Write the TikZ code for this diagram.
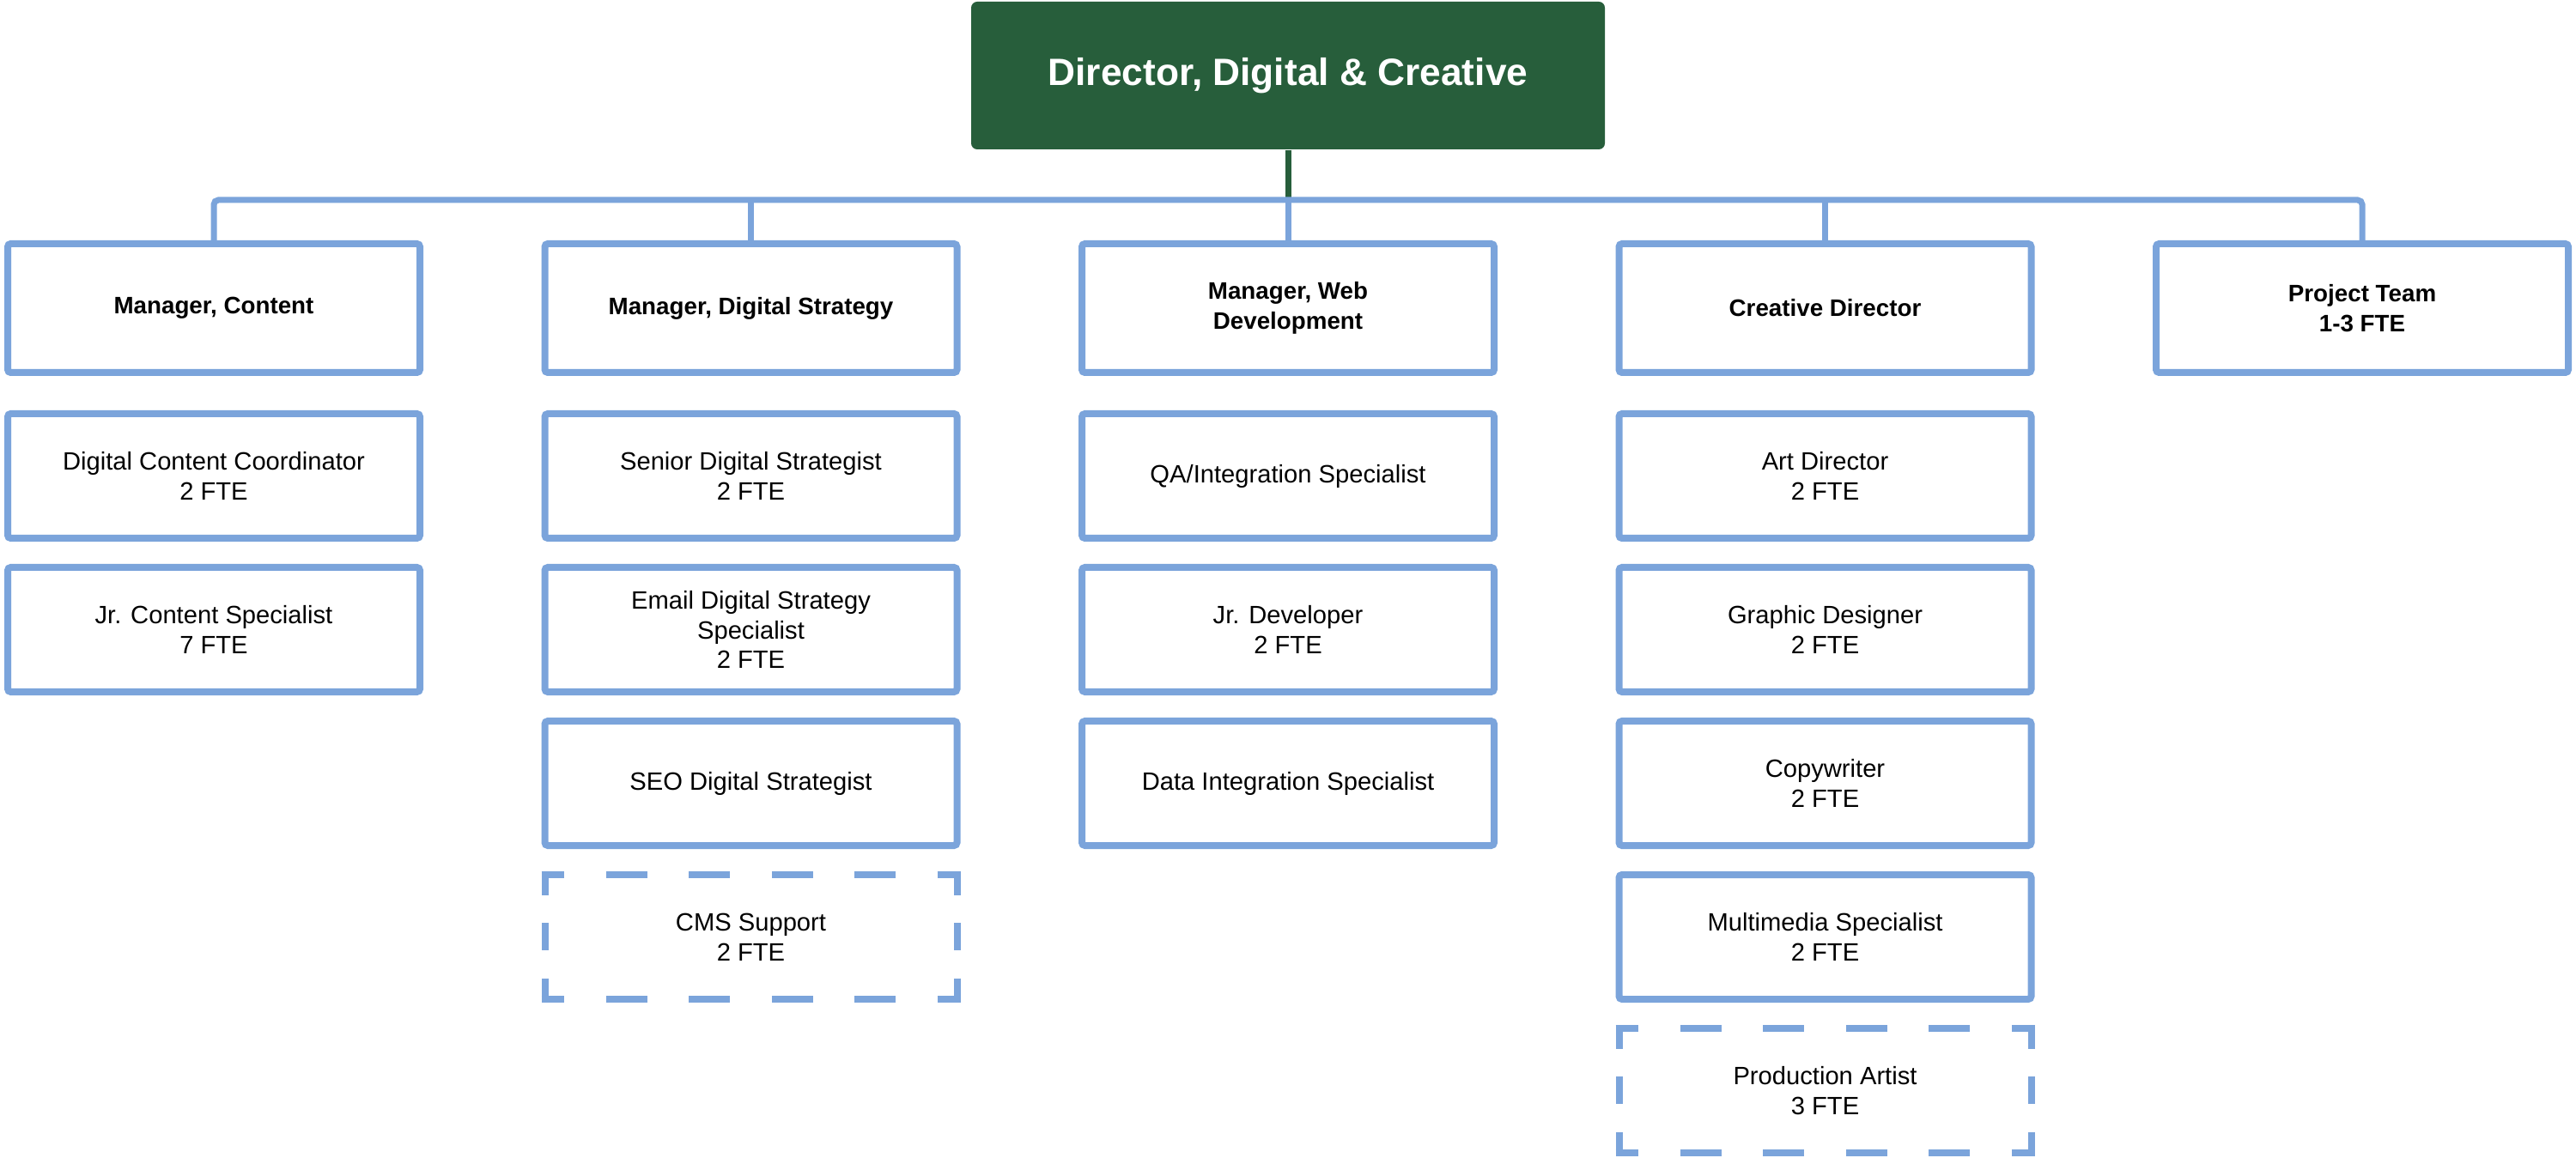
\documentclass[tikz,border=0pt]{standalone}
\usepackage{fontspec}
\setmainfont{Liberation Sans}
\definecolor{dgreen}{HTML}{275E3B}
\definecolor{lblue}{HTML}{7BA4DB}

% dashed outline of an open post
\newcommand{\dashsides}[1]{%
  \draw[hdash] ([xshift=-0.04cm]#1.north west) -- ([xshift=0.04cm]#1.north east);
  \draw[hdash] ([xshift=-0.04cm]#1.south west) -- ([xshift=0.04cm]#1.south east);
  \draw[vdash] (#1.north west) -- (#1.south west);
  \draw[vdash] (#1.north east) -- (#1.south east);
}

\begin{document}
\begin{tikzpicture}[
    role/.style={draw=lblue, line width=0.08cm, rounded corners=1pt, minimum width=4.8cm,
      minimum height=1.45cm, align=center, inner sep=0pt, font=\fontsize{8.3}{9.9}\selectfont},
    manager/.style={role, minimum height=1.5cm, font=\fontsize{7.9}{9.9}\selectfont\bfseries},
    open/.style={role, draw=none, outer sep=0pt},
    link/.style={draw=lblue, line width=0.07cm, rounded corners=1.5pt},
    hdash/.style={draw=lblue, line width=0.08cm, dash pattern=on 0.48cm off 0.485cm, dash phase=0.2125cm},
    vdash/.style={draw=lblue, line width=0.08cm, dash pattern=on 0.32cm off 0.325cm, dash phase=0.085cm}
  ]
    \useasboundingbox (0,0) rectangle (30,-13.49);

    \node[fill=dgreen, rounded corners=2pt, minimum width=7.38cm, minimum height=1.72cm,
      text=white, font=\fontsize{12.6}{15}\selectfont\bfseries] (director) at (15,-0.88)
      {Director, Digital \& Creative};
    \coordinate (bus) at (15,-2.33);

    % managers
    \node[manager] (mcontent)  at (2.49,-3.59)   {Manager, Content};
    \node[manager] (mstrategy) at (8.745,-3.59)  {Manager, Digital Strategy};
    \node[manager] (mweb)      at (15,-3.59)     {Manager, Web\\Development};
    \node[manager] (creative)  at (21.255,-3.59) {Creative Director};
    \node[manager] (project)   at (27.51,-3.59)  {Project Team\\1-3 FTE};

    % content
    \node[role] (coordinator) at (2.49,-5.545) {Digital Content Coordinator\\2 FTE};
    \node[role] (jrcontent)   at (2.49,-7.335) {Jr. Content Specialist\\7 FTE};

    % digital strategy
    \node[role] (senior)  at (8.745,-5.545)  {Senior Digital Strategist\\2 FTE};
    \node[role] (email)   at (8.745,-7.335)  {Email Digital Strategy\\Specialist\\2 FTE};
    \node[role] (seo)     at (8.745,-9.125)  {SEO Digital Strategist};
    \node[open] (cms)     at (8.745,-10.915) {CMS Support\\2 FTE};

    % web development
    \node[role] (qa)      at (15,-5.545) {QA/Integration Specialist};
    \node[role] (jrdev)   at (15,-7.335) {Jr. Developer\\2 FTE};
    \node[role] (data)    at (15,-9.125) {Data Integration Specialist};

    % creative
    \node[role] (art)        at (21.255,-5.545)  {Art Director\\2 FTE};
    \node[role] (graphic)    at (21.255,-7.335)  {Graphic Designer\\2 FTE};
    \node[role] (copy)       at (21.255,-9.125)  {Copywriter\\2 FTE};
    \node[role] (multimedia) at (21.255,-10.915) {Multimedia Specialist\\2 FTE};
    \node[open] (production) at (21.255,-12.705) {Production Artist\\3 FTE};

    \dashsides{cms}
    \dashsides{production}

    \draw[dgreen, line width=0.07cm] (director.south) -- (bus);
    \draw[link] (mcontent.north) |- (bus) -| (project.north);
    \draw[link] (bus) -- (mweb.north);
    \draw[link] (mstrategy.north |- bus) -- (mstrategy.north);
    \draw[link] (creative.north |- bus) -- (creative.north);
  \end{tikzpicture}
\end{document}
